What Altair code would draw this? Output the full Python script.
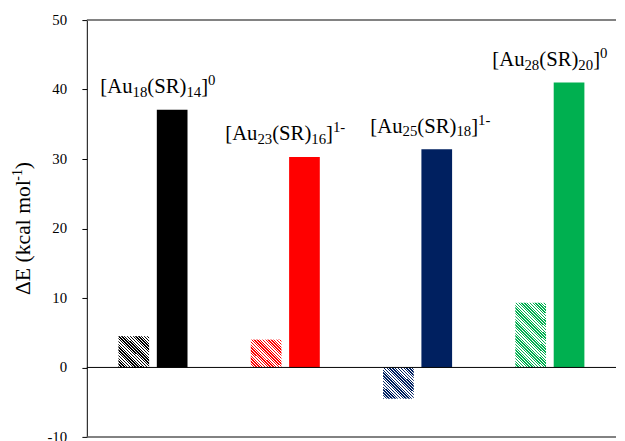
import altair as alt
import pandas as pd

# ---------------- data ----------------
clusters = ["Au18", "Au23", "Au25", "Au28"]
hatched_values = [4.5, 4.0, -4.5, 9.3]
solid_values = [37.1, 30.3, 31.4, 41.0]
colors = ["#000000", "#FF0000", "#002060", "#00B050"]
y_ticks = [-10, 0, 10, 20, 30, 40, 50]
y_title_pieces = [("ΔE (kcal mol", "main"), ("-1", "sup"), (")", "main")]
label_pieces = [
    [("[Au", "main"), ("18", "sub"), ("(SR)", "main"), ("14", "sub"), ("]", "main"), ("0", "sup")],
    [("[Au", "main"), ("23", "sub"), ("(SR)", "main"), ("16", "sub"), ("]", "main"), ("1-", "sup")],
    [("[Au", "main"), ("25", "sub"), ("(SR)", "main"), ("18", "sub"), ("]", "main"), ("1-", "sup")],
    [("[Au", "main"), ("28", "sub"), ("(SR)", "main"), ("20", "sub"), ("]", "main"), ("0", "sup")],
]

# ---------------- style / layout ----------------
W, H = 537, 423
Y_MIN, Y_MAX = -10, 50
PX_PER_UNIT = H / (Y_MAX - Y_MIN)
FONT = "Liberation Serif"
MAIN_FS, SMALL_FS = 21, 15
TITLE_FS, TITLE_SUP_FS = 22, 14
TICK_FS = 15
BAR_W = 31.0
STEP = W / len(clusters)
LABEL_SHIFT_PX = [5, 0, 13, 0]    # horizontal nudge of each annotation (style)
TICK_LABEL_GAP_PX = 20            # from axis line to right edge of tick labels
TITLE_BASELINE_PX = 58            # from axis line to rotated title baseline

# Times / Liberation Serif advance widths (per 1000 em)
ADV = {"[": 333, "]": 333, "A": 722, "u": 500, "(": 333, ")": 333,
       "S": 556, "R": 667, "-": 333, "Δ": 612, "E": 611, " ": 250,
       "k": 500, "c": 444, "a": 444, "l": 278, "m": 778, "o": 500}
for d in "0123456789":
    ADV[d] = 500


def text_width(s, fs):
    return sum(ADV.get(c, 500) for c in s) * fs / 1000.0


def hatch(color, value, period=2.8):
    w = BAR_W
    h = max(abs(value) * PX_PER_UNIT, 1.0)
    b = w / h
    s = (b + 1) / (b * b + 1)
    n = max(int(round((b + 1) * w / (period * b))), 1)
    stops = []
    for k in range(n):
        t0, t1, t2 = k / n, (k + 0.5) / n, (k + 1) / n
        stops += [
            {"offset": t0, "color": color},
            {"offset": t1, "color": color},
            {"offset": t1, "color": "#ffffff"},
            {"offset": t2, "color": "#ffffff"},
        ]
    return {"gradient": "linear", "x1": 0, "y1": 1, "x2": s * b, "y2": 1 - s, "stops": stops}


# ---------------- tables ----------------
bar_rows = []
for c, hv, sv in zip(clusters, hatched_values, solid_values):
    bar_rows.append({"cluster": c, "kind": "hatched", "value": hv})
    bar_rows.append({"cluster": c, "kind": "solid", "value": sv})
bars_df = pd.DataFrame(bar_rows)

lab_rows = []
for i, pieces in enumerate(label_pieces):
    widths = [text_width(t, MAIN_FS if k == "main" else SMALL_FS) for t, k in pieces]
    x = -sum(widths) / 2.0 + LABEL_SHIFT_PX[i]
    for (t, k), wdt in zip(pieces, widths):
        lab_rows.append({"text": t, "kind": k, "xpos": i + 0.5 + x / STEP, "value": solid_values[i]})
        x += wdt
labels_df = pd.DataFrame(lab_rows)

ticks_df = pd.DataFrame({
    "text": [str(v) for v in y_ticks],
    "value": y_ticks,
    "xpos": [-TICK_LABEL_GAP_PX / STEP] * len(y_ticks),
})

title_rows = []
t_widths = [text_width(t, TITLE_FS if k == "main" else TITLE_SUP_FS) for t, k in y_title_pieces]
y_mid = (Y_MIN + Y_MAX) / 2.0
cum = -sum(t_widths) / 2.0
for (t, k), wdt in zip(y_title_pieces, t_widths):
    title_rows.append({"text": t, "kind": k, "xpos": -TITLE_BASELINE_PX / STEP,
                       "value": y_mid + cum / PX_PER_UNIT})
    cum += wdt
title_df = pd.DataFrame(title_rows)

# ---------------- encodings ----------------
y_axis = alt.Axis(values=y_ticks, grid=False, tickSize=5, labels=False, title=None,
                  domainColor="#000000", tickColor="#000000")
Y = alt.Y("value:Q", scale=alt.Scale(domain=[Y_MIN, Y_MAX], nice=False, zero=False), axis=y_axis)
X = alt.X("cluster:N", scale=alt.Scale(domain=clusters, paddingInner=0.478, paddingOuter=0.239), axis=None)
XOFF = alt.XOffset("kind:N", scale=alt.Scale(domain=["hatched", "solid"], paddingInner=0.2, paddingOuter=0))

base = alt.Chart(bars_df)

solid = base.transform_filter(alt.datum.kind == "solid").mark_bar().encode(
    x=X, xOffset=XOFF, y=Y,
    color=alt.Color("cluster:N", scale=alt.Scale(domain=clusters, range=colors), legend=None),
)

hatched_layers = []
for c, hv, col in zip(clusters, hatched_values, colors):
    hatched_layers.append(
        base.transform_filter((alt.datum.kind == "hatched") & (alt.datum.cluster == c))
        .mark_bar(fill=hatch(col, hv))
        .encode(x=X, xOffset=XOFF, y=Y)
    )

XL = alt.X("xpos:Q", scale=alt.Scale(domain=[0, len(clusters)], nice=False, zero=False), axis=None)

lab_base = alt.Chart(labels_df)
text_main = lab_base.transform_filter(alt.datum.kind == "main").mark_text(
    font=FONT, fontSize=MAIN_FS, align="left", baseline="alphabetic", dy=-17, color="#000000"
).encode(x=XL, y=Y, text="text:N")
text_sub = lab_base.transform_filter(alt.datum.kind == "sub").mark_text(
    font=FONT, fontSize=SMALL_FS, align="left", baseline="alphabetic", dy=-13, color="#000000"
).encode(x=XL, y=Y, text="text:N")
text_sup = lab_base.transform_filter(alt.datum.kind == "sup").mark_text(
    font=FONT, fontSize=SMALL_FS, align="left", baseline="alphabetic", dy=-25, color="#000000"
).encode(x=XL, y=Y, text="text:N")

tick_text = alt.Chart(ticks_df).mark_text(
    font=FONT, fontSize=TICK_FS, align="right", baseline="middle", color="#000000"
).encode(x=XL, y=Y, text="text:N")

title_base = alt.Chart(title_df)
title_main = title_base.transform_filter(alt.datum.kind == "main").mark_text(
    font=FONT, fontSize=TITLE_FS, align="left", baseline="alphabetic", angle=270, color="#000000"
).encode(x=XL, y=Y, text="text:N")
title_sup = title_base.transform_filter(alt.datum.kind == "sup").mark_text(
    font=FONT, fontSize=TITLE_SUP_FS, align="left", baseline="alphabetic", angle=270, dy=-8,
    color="#000000"
).encode(x=XL, y=Y, text="text:N")

frame_top = alt.Chart().mark_rule(color="#595959", strokeWidth=1.5).encode(y=alt.datum(Y_MAX))
frame_bot = alt.Chart().mark_rule(color="#595959", strokeWidth=1.5).encode(y=alt.datum(Y_MIN))
zero_line = alt.Chart().mark_rule(color="#000000", strokeWidth=1).encode(y=alt.datum(0))

bars_layer = alt.layer(solid, *hatched_layers)
text_layer = alt.layer(text_main, text_sub, text_sup, tick_text, title_main, title_sup)

chart = (
    alt.layer(bars_layer, frame_top, frame_bot, zero_line, text_layer)
    .resolve_scale(x="independent")
    .properties(width=W, height=H, padding={"left": 3, "top": 2, "right": 0, "bottom": 0},
                background="#ffffff")
    .configure_view(stroke=None)
)

chart.save("out.html", embed_options={"renderer": "svg", "actions": False})
